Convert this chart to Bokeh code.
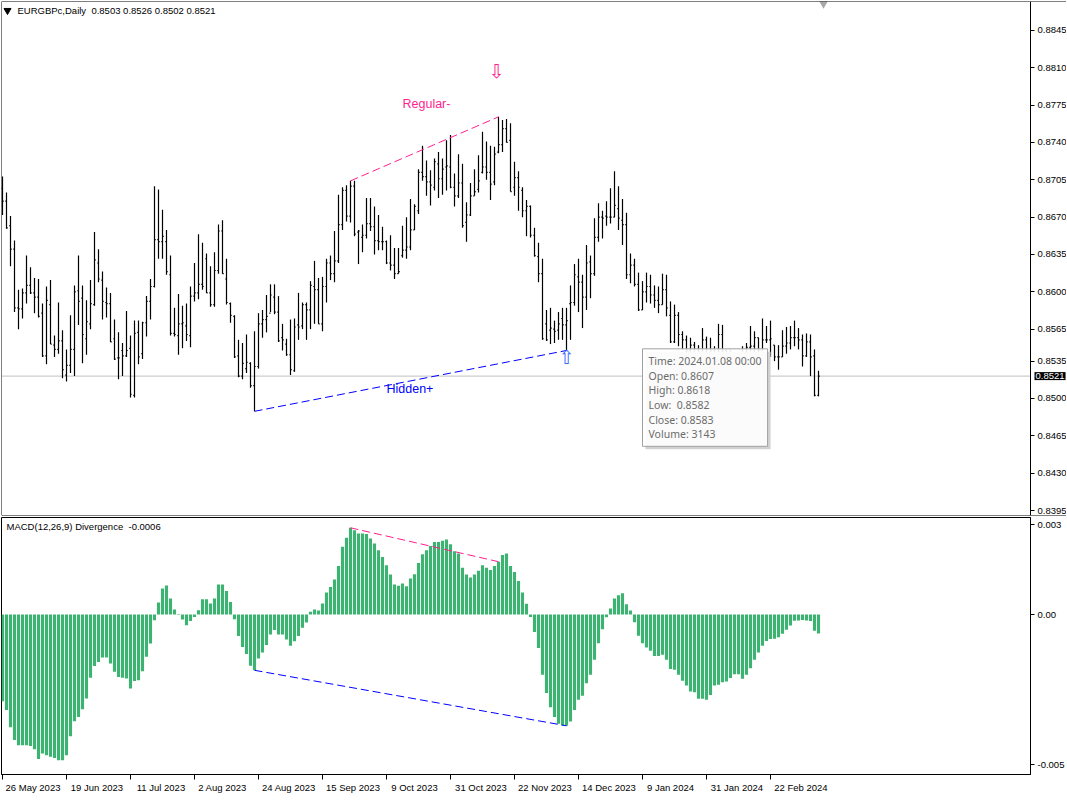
from bokeh.plotting import figure
from bokeh.models import (ColumnDataSource, Range1d, FixedTicker, Span, Label,
                          CustomJSTickFormatter, PrintfTickFormatter)
from bokeh.layouts import column
from bokeh.core.properties import value
from bokeh.embed import file_html
from bokeh.resources import INLINE

symbol = "EURGBPc,Daily"

# daily OHLC, 26 May 2023 .. 11 Mar 2024
opens = [
    0.8697, 0.8685, 0.8662, 0.8640, 0.8585, 0.8584, 0.8599, 0.8606, 0.8599, 0.8595,
    0.8580, 0.8540, 0.8588, 0.8550, 0.8546, 0.8554, 0.8522, 0.8531, 0.8546, 0.8601,
    0.8594, 0.8556, 0.8570, 0.8588, 0.8627, 0.8611, 0.8590, 0.8589, 0.8556, 0.8538,
    0.8545, 0.8540, 0.8547, 0.8503, 0.8562, 0.8542, 0.8571, 0.8591, 0.8605, 0.8649,
    0.8647, 0.8647, 0.8616, 0.8561, 0.8559, 0.8570, 0.8568, 0.8559, 0.8596, 0.8599,
    0.8607, 0.8631, 0.8599, 0.8588, 0.8620, 0.8657, 0.8612, 0.8589, 0.8577, 0.8540,
    0.8521, 0.8528, 0.8533, 0.8512, 0.8530, 0.8570, 0.8574, 0.8580, 0.8595, 0.8581,
    0.8557, 0.8551, 0.8541, 0.8526, 0.8569, 0.8568, 0.8588, 0.8583, 0.8605, 0.8602,
    0.8570, 0.8605, 0.8627, 0.8617, 0.8629, 0.8663, 0.8695, 0.8671, 0.8699, 0.8656,
    0.8651, 0.8653, 0.8664, 0.8661, 0.8648, 0.8647, 0.8647, 0.8627, 0.8625, 0.8617,
    0.8634, 0.8639, 0.8642, 0.8658, 0.8676, 0.8712, 0.8708, 0.8703, 0.8698, 0.8720,
    0.8706, 0.8717, 0.8717, 0.8698, 0.8690, 0.8702, 0.8665, 0.8672, 0.8690, 0.8696,
    0.8712, 0.8717, 0.8712, 0.8703, 0.8731, 0.8738, 0.8753, 0.8742, 0.8698, 0.8707,
    0.8695, 0.8676, 0.8680, 0.8653, 0.8633, 0.8617, 0.8570, 0.8564, 0.8565, 0.8564,
    0.8575, 0.8569, 0.8589, 0.8590, 0.8614, 0.8609, 0.8595, 0.8628, 0.8617, 0.8651,
    0.8670, 0.8671, 0.8670, 0.8670, 0.8678, 0.8667, 0.8663, 0.8616, 0.8625, 0.8607,
    0.8583, 0.8600, 0.8605, 0.8597, 0.8592, 0.8588, 0.8602, 0.8578, 0.8553, 0.8578,
    0.8560, 0.8555, 0.8545, 0.8550, 0.8540, 0.8535, 0.8555, 0.8532, 0.8545, 0.8530,
    0.8560, 0.8545, 0.8528, 0.8520, 0.8512, 0.8530, 0.8540, 0.8548, 0.8549, 0.8557,
    0.8545, 0.8555, 0.8555, 0.8550, 0.8539, 0.8539, 0.8549, 0.8552, 0.8557, 0.8557,
    0.8555, 0.8540, 0.8553, 0.8540, 0.8503,
]
highs = [
    0.8708, 0.8693, 0.8671, 0.8648, 0.8602, 0.8603, 0.8634, 0.8623, 0.8613, 0.8612,
    0.8589, 0.8605, 0.8611, 0.8559, 0.8590, 0.8564, 0.8546, 0.8578, 0.8606, 0.8634,
    0.8606, 0.8592, 0.8611, 0.8656, 0.8640, 0.8619, 0.8604, 0.8599, 0.8574, 0.8562,
    0.8552, 0.8582, 0.8559, 0.8573, 0.8573, 0.8572, 0.8596, 0.8612, 0.8699, 0.8696,
    0.8677, 0.8658, 0.8634, 0.8585, 0.8598, 0.8587, 0.8589, 0.8605, 0.8627, 0.8654,
    0.8646, 0.8636, 0.8624, 0.8637, 0.8663, 0.8667, 0.8631, 0.8590, 0.8578, 0.8555,
    0.8552, 0.8560, 0.8534, 0.8563, 0.8580, 0.8583, 0.8597, 0.8607, 0.8607, 0.8596,
    0.8570, 0.8556, 0.8574, 0.8575, 0.8599, 0.8590, 0.8590, 0.8610, 0.8629, 0.8613,
    0.8614, 0.8631, 0.8634, 0.8657, 0.8691, 0.8698, 0.8700, 0.8704, 0.8704, 0.8658,
    0.8663, 0.8688, 0.8688, 0.8680, 0.8672, 0.8661, 0.8648, 0.8653, 0.8641, 0.8641,
    0.8662, 0.8670, 0.8687, 0.8682, 0.8715, 0.8737, 0.8723, 0.8714, 0.8725, 0.8731,
    0.8725, 0.8742, 0.8747, 0.8711, 0.8729, 0.8720, 0.8684, 0.8702, 0.8715, 0.8728,
    0.8750, 0.8741, 0.8737, 0.8736, 0.8764, 0.8761, 0.8762, 0.8758, 0.8722, 0.8713,
    0.8698, 0.8686, 0.8681, 0.8660, 0.8646, 0.8631, 0.8583, 0.8585, 0.8573, 0.8581,
    0.8585, 0.8585, 0.8606, 0.8626, 0.8631, 0.8616, 0.8644, 0.8634, 0.8669, 0.8683,
    0.8676, 0.8685, 0.8697, 0.8713, 0.8699, 0.8687, 0.8674, 0.8636, 0.8631, 0.8618,
    0.8610, 0.8618, 0.8616, 0.8606, 0.8605, 0.8617, 0.8616, 0.8591, 0.8588, 0.8581,
    0.8563, 0.8559, 0.8557, 0.8553, 0.8550, 0.8566, 0.8558, 0.8557, 0.8549, 0.8570,
    0.8569, 0.8546, 0.8546, 0.8542, 0.8539, 0.8549, 0.8552, 0.8568, 0.8563, 0.8557,
    0.8575, 0.8568, 0.8573, 0.8550, 0.8550, 0.8564, 0.8567, 0.8568, 0.8573, 0.8566,
    0.8560, 0.8561, 0.8560, 0.8546, 0.8526,
]
lows = [
    0.8672, 0.8659, 0.8624, 0.8581, 0.8565, 0.8575, 0.8589, 0.8598, 0.8580, 0.8576,
    0.8539, 0.8532, 0.8551, 0.8539, 0.8542, 0.8519, 0.8516, 0.8524, 0.8521, 0.8569,
    0.8533, 0.8541, 0.8565, 0.8587, 0.8609, 0.8574, 0.8576, 0.8553, 0.8536, 0.8518,
    0.8521, 0.8539, 0.8501, 0.8501, 0.8532, 0.8537, 0.8558, 0.8574, 0.8604, 0.8631,
    0.8631, 0.8616, 0.8559, 0.8558, 0.8541, 0.8547, 0.8554, 0.8548, 0.8591, 0.8593,
    0.8602, 0.8599, 0.8586, 0.8586, 0.8617, 0.8617, 0.8588, 0.8571, 0.8538, 0.8520,
    0.8518, 0.8524, 0.8510, 0.8488, 0.8528, 0.8557, 0.8562, 0.8581, 0.8579, 0.8553,
    0.8545, 0.8540, 0.8522, 0.8525, 0.8555, 0.8565, 0.8555, 0.8565, 0.8570, 0.8570,
    0.8563, 0.8590, 0.8611, 0.8609, 0.8627, 0.8658, 0.8666, 0.8665, 0.8652, 0.8626,
    0.8637, 0.8650, 0.8657, 0.8635, 0.8639, 0.8639, 0.8626, 0.8620, 0.8612, 0.8617,
    0.8632, 0.8631, 0.8639, 0.8658, 0.8673, 0.8704, 0.8690, 0.8681, 0.8695, 0.8688,
    0.8691, 0.8695, 0.8697, 0.8680, 0.8688, 0.8660, 0.8647, 0.8671, 0.8690, 0.8693,
    0.8711, 0.8705, 0.8686, 0.8700, 0.8730, 0.8731, 0.8740, 0.8694, 0.8690, 0.8676,
    0.8670, 0.8652, 0.8651, 0.8633, 0.8609, 0.8555, 0.8554, 0.8551, 0.8552, 0.8555,
    0.8555, 0.8545, 0.8555, 0.8587, 0.8581, 0.8566, 0.8583, 0.8594, 0.8615, 0.8647,
    0.8650, 0.8662, 0.8664, 0.8670, 0.8658, 0.8644, 0.8612, 0.8608, 0.8605, 0.8582,
    0.8583, 0.8590, 0.8589, 0.8585, 0.8580, 0.8588, 0.8577, 0.8552, 0.8552, 0.8549,
    0.8546, 0.8539, 0.8536, 0.8533, 0.8528, 0.8533, 0.8527, 0.8530, 0.8524, 0.8529,
    0.8536, 0.8521, 0.8514, 0.8508, 0.8496, 0.8521, 0.8527, 0.8544, 0.8543, 0.8536,
    0.8545, 0.8552, 0.8539, 0.8535, 0.8527, 0.8539, 0.8542, 0.8546, 0.8549, 0.8546,
    0.8530, 0.8539, 0.8521, 0.8502, 0.8502,
]
closes = [
    0.8685, 0.8660, 0.8640, 0.8585, 0.8584, 0.8599, 0.8606, 0.8599, 0.8595, 0.8577,
    0.8540, 0.8592, 0.8551, 0.8546, 0.8554, 0.8527, 0.8531, 0.8546, 0.8600, 0.8591,
    0.8560, 0.8572, 0.8589, 0.8630, 0.8612, 0.8591, 0.8589, 0.8553, 0.8537, 0.8538,
    0.8540, 0.8545, 0.8504, 0.8561, 0.8539, 0.8571, 0.8591, 0.8605, 0.8649, 0.8647,
    0.8652, 0.8619, 0.8561, 0.8560, 0.8570, 0.8571, 0.8560, 0.8596, 0.8599, 0.8607,
    0.8605, 0.8599, 0.8588, 0.8620, 0.8657, 0.8617, 0.8590, 0.8578, 0.8539, 0.8521,
    0.8533, 0.8534, 0.8512, 0.8530, 0.8570, 0.8574, 0.8577, 0.8597, 0.8581, 0.8554,
    0.8555, 0.8541, 0.8527, 0.8567, 0.8567, 0.8588, 0.8583, 0.8606, 0.8602, 0.8570,
    0.8605, 0.8627, 0.8617, 0.8629, 0.8663, 0.8695, 0.8671, 0.8699, 0.8654, 0.8657,
    0.8653, 0.8664, 0.8661, 0.8648, 0.8647, 0.8647, 0.8627, 0.8625, 0.8617, 0.8619,
    0.8639, 0.8642, 0.8658, 0.8680, 0.8712, 0.8708, 0.8703, 0.8700, 0.8722, 0.8706,
    0.8715, 0.8718, 0.8698, 0.8690, 0.8702, 0.8662, 0.8672, 0.8690, 0.8694, 0.8704,
    0.8717, 0.8712, 0.8701, 0.8729, 0.8738, 0.8753, 0.8740, 0.8694, 0.8707, 0.8698,
    0.8676, 0.8680, 0.8653, 0.8634, 0.8617, 0.8556, 0.8555, 0.8566, 0.8563, 0.8570,
    0.8569, 0.8573, 0.8590, 0.8616, 0.8609, 0.8595, 0.8627, 0.8617, 0.8651, 0.8670,
    0.8669, 0.8670, 0.8670, 0.8681, 0.8669, 0.8663, 0.8616, 0.8625, 0.8607, 0.8583,
    0.8600, 0.8605, 0.8597, 0.8592, 0.8588, 0.8602, 0.8585, 0.8553, 0.8578, 0.8560,
    0.8555, 0.8545, 0.8550, 0.8540, 0.8535, 0.8555, 0.8532, 0.8545, 0.8530, 0.8560,
    0.8545, 0.8528, 0.8520, 0.8512, 0.8530, 0.8540, 0.8548, 0.8549, 0.8557, 0.8545,
    0.8555, 0.8555, 0.8556, 0.8539, 0.8539, 0.8549, 0.8552, 0.8557, 0.8557, 0.8555,
    0.8540, 0.8553, 0.8539, 0.8503, 0.8521,
]

# MACD(12,26,9) histogram, in thousandths
macd_milli = [
    -2.89, -3.18, -3.76, -4.18, -4.36, -4.36, -4.36, -4.38, -4.49, -4.82,
    -4.63, -4.69, -4.74, -4.78, -4.86, -4.86, -4.69, -4.06, -3.56, -3.42,
    -3.16, -2.80, -2.11, -1.72, -1.58, -1.43, -1.43, -1.63, -1.91, -2.08,
    -2.11, -2.13, -2.47, -2.22, -2.19, -1.89, -1.41, -0.97, -0.19, 0.40,
    0.87, 0.97, 0.53, 0.17, -0.02, -0.17, -0.36, -0.22, -0.08, 0.14,
    0.51, 0.51, 0.37, 0.53, 1.00, 1.00, 0.78, 0.42, -0.16, -0.72,
    -1.08, -1.32, -1.71, -1.86, -1.47, -1.27, -1.02, -0.67, -0.52, -0.67,
    -0.67, -0.83, -1.04, -0.89, -0.72, -0.44, -0.27, 0.09, 0.17, 0.13,
    0.37, 0.73, 0.92, 1.17, 1.62, 2.26, 2.56, 2.89, 2.81, 2.70,
    2.70, 2.68, 2.53, 2.37, 2.14, 1.92, 1.64, 1.33, 1.00, 0.96,
    1.03, 0.94, 1.20, 1.34, 1.72, 2.01, 2.14, 2.28, 2.42, 2.42,
    2.46, 2.50, 2.34, 2.11, 2.03, 1.56, 1.33, 1.23, 1.33, 1.46,
    1.64, 1.56, 1.48, 1.62, 1.76, 1.98, 2.03, 1.62, 1.42, 1.12,
    0.73, 0.36, -0.08, -0.58, -1.12, -2.01, -2.62, -3.09, -3.42, -3.64,
    -3.70, -3.71, -3.57, -3.18, -2.84, -2.71, -2.29, -2.01, -1.51, -0.96,
    -0.49, -0.09, 0.20, 0.53, 0.64, 0.71, 0.34, 0.13, -0.26, -0.71,
    -0.96, -1.10, -1.21, -1.38, -1.38, -1.34, -1.51, -1.82, -1.84, -2.01,
    -2.21, -2.37, -2.57, -2.59, -2.81, -2.81, -2.84, -2.68, -2.37, -2.34,
    -2.26, -2.23, -2.12, -1.99, -1.99, -2.14, -2.01, -1.79, -1.51, -1.27,
    -1.04, -0.88, -0.82, -0.81, -0.76, -0.64, -0.51, -0.37, -0.21, -0.20,
    -0.18, -0.20, -0.22, -0.54, -0.63,
]

tick_bars = [0, 16, 32, 48, 64, 80, 96, 112, 128, 144, 160, 176, 192]
tick_labels = ["26 May 2023", "19 Jun 2023", "11 Jul 2023", "2 Aug 2023", "24 Aug 2023",
               "15 Sep 2023", "9 Oct 2023", "31 Oct 2023", "22 Nov 2023", "14 Dec 2023",
               "9 Jan 2024", "31 Jan 2024", "22 Feb 2024"]
price_ticks = [0.8395, 0.8430, 0.8465, 0.8500, 0.8535, 0.8565, 0.8600, 0.8635,
               0.8670, 0.8705, 0.8740, 0.8775, 0.8810, 0.8845]

regular_div = (87, 124)   # bearish regular divergence (highs / histogram peaks)
hidden_div = (63, 141)    # bullish hidden divergence (lows / histogram troughs)

tip_bar = 159
tip_time = "2024.01.08 00:00"
tip_volume = 3143

FONT = "Liberation Sans"
PINK = "#ff1f8f"
BLUE = "#0000ff"
GREEN = "#3cb371"
SP2 = " \u00a0"   # two visible spaces in svg text


# map reference-screen pixels to data, used only to place things
def ref_x(px):
    return (px - 2) / 4


def ref_y(py):
    return 0.8845 - (py - 30) / 10689


def ref_m(py):
    return (616 - py) / 30000


macd = [v / 1000 for v in macd_milli]
idx = list(range(len(closes)))
scale_x = ref_x(1030)     # where the price scale starts


def style_y(axis):
    axis.axis_line_color = "black"
    axis.major_tick_out = 4
    axis.major_tick_in = 0
    axis.minor_tick_out = 0
    axis.major_label_standoff = 3
    axis.major_label_text_font = FONT
    axis.major_label_text_font_size = "9.5px"
    axis.major_label_text_color = "black"


# price window: the frame runs under the price scale so the bid tag can sit on it
xr_main = Range1d(ref_x(1), ref_x(1066))
p = figure(frame_width=1065, frame_height=514, x_range=xr_main,
           y_range=Range1d(ref_y(516), ref_y(1)),
           x_axis_location=None, y_axis_location="right",
           toolbar_location=None, output_backend="svg",
           min_border_left=1, min_border_top=1, min_border_bottom=2, min_border_right=0)
p.grid.visible = False
p.outline_line_color = None
p.yaxis.fixed_location = scale_x
style_y(p.yaxis)
p.yaxis.ticker = FixedTicker(ticks=price_ticks)
p.yaxis.formatter = PrintfTickFormatter(format="%.4f")
p.add_layout(Span(location=ref_y(1), dimension="width", line_color="black", line_width=1))
p.add_layout(Span(location=ref_y(516), dimension="width", line_color="black", line_width=1))
p.add_layout(Span(location=xr_main.start, dimension="height", line_color="black", line_width=1))

# bid line
p.line([xr_main.start, scale_x], [closes[-1], closes[-1]], line_color="#c0c0c0",
       line_width=1, level="underlay")

src = ColumnDataSource(dict(
    x=idx, o=opens, h=highs, l=lows, c=closes,
    xl=[i - 0.3 for i in idx], xr=[i + 0.3 for i in idx],
))
p.segment(x0='x', y0='l', x1='x', y1='h', source=src, line_color="black", line_width=1.2)
p.segment(x0='xl', y0='o', x1='x', y1='o', source=src, line_color="black", line_width=1.2)
p.segment(x0='x', y0='c', x1='xr', y1='c', source=src, line_color="black", line_width=1.2)

a, b = regular_div
p.line([a, b], [highs[a], highs[b]], line_color=PINK, line_dash="8 4", line_width=1)
a, b = hidden_div
p.line([a, b], [lows[a], lows[b]], line_color=BLUE, line_dash="8 4", line_width=1)

p.text(x=[ref_x(402)], y=[ref_y(104)], text=["Regular-"], text_color=PINK,
       text_font=value(FONT), text_font_size="12.5px", text_baseline="middle")
p.text(x=[ref_x(386)], y=[ref_y(389)], text=["Hidden+"], text_color=BLUE,
       text_font=value(FONT), text_font_size="12.5px", text_baseline="middle")
p.text(x=[regular_div[1] - 0.5], y=[ref_y(71)], text=["\u21e9"], text_color=PINK,
       text_font=value("DejaVu Sans"), text_font_size="19px",
       text_align="center", text_baseline="middle")
p.text(x=[hidden_div[1]], y=[ref_y(357)], text=["\u21e7"], text_color="#3d6bff",
       text_font=value("DejaVu Sans"), text_font_size="19px",
       text_align="center", text_baseline="middle")

# chart header
p.scatter(x=[ref_x(7)], y=[ref_y(10)], marker="inverted_triangle", size=7,
          fill_color="black", line_color="black")
header = f"{symbol}{SP2}{opens[-1]:.4f} {highs[-1]:.4f} {lows[-1]:.4f} {closes[-1]:.4f}"
p.text(x=[ref_x(17)], y=[ref_y(10)], text=[header], text_color="black",
       text_font=value(FONT), text_font_size="9.5px", text_baseline="middle")
p.scatter(x=[ref_x(823)], y=[ref_y(3)], marker="inverted_triangle", size=9,
          fill_color="#a8a8a8", line_color=None)

# current bid tag on the price scale
p.add_layout(Label(x=ref_x(1034), y=closes[-1], text=f"{closes[-1]:.4f}",
                   text_color="white", text_font=FONT, text_font_size="9.5px",
                   text_baseline="middle", background_fill_color="black", padding=1))

# crosshair data window
tip = (f"Time: {tip_time}\nOpen: {opens[tip_bar]:.4f}\nHigh: {highs[tip_bar]:.4f}\n"
       f"Low:{SP2}{lows[tip_bar]:.4f}\nClose: {closes[tip_bar]:.4f}\nVolume: {tip_volume}")
p.add_layout(Label(x=ref_x(645), y=ref_y(352), text=tip, text_color="#d2d2d2",
                   text_font="Noto Sans", text_font_size="10.5px", text_line_height=1.05,
                   text_baseline="top", background_fill_color="#d2d2d2",
                   background_fill_alpha=1.0, padding=(6, 5)))
p.add_layout(Label(x=ref_x(642), y=ref_y(349), text=tip, text_color="#6b6b6b",
                   text_font="Noto Sans", text_font_size="10.5px", text_line_height=1.05,
                   text_baseline="top", background_fill_color="white",
                   background_fill_alpha=0.9, border_line_color="#a0a0a0", padding=(6, 5)))

# MACD window
xr_macd = Range1d(ref_x(1), scale_x)
m = figure(frame_width=1029, frame_height=257, x_range=xr_macd,
           y_range=Range1d(ref_m(776), ref_m(519)),
           x_axis_location="below", y_axis_location="right",
           toolbar_location=None, output_backend="svg",
           min_border_left=1, min_border_top=0, min_border_bottom=0, min_border_right=0)
m.grid.visible = False
m.outline_line_color = "black"
style_y(m.yaxis)
m.yaxis.ticker = FixedTicker(ticks=[-0.005, 0.0, 0.003])
m.yaxis.formatter = CustomJSTickFormatter(code="return tick == 0 ? '0.00' : tick.toFixed(3);")

m.vbar(x=idx, top=macd, bottom=0, width=0.78, fill_color=GREEN, line_color=None)
a, b = regular_div
m.line([a, b], [macd[a], macd[b]], line_color=PINK, line_dash="8 4", line_width=1)
a, b = hidden_div
m.line([a, b], [macd[a], macd[b]], line_color=BLUE, line_dash="8 4", line_width=1)

m.text(x=[ref_x(6)], y=[ref_m(528)], text=[f"MACD(12,26,9) Divergence{SP2}{macd[-1]:.4f}"],
       text_color="black", text_font=value(FONT), text_font_size="9.5px",
       text_baseline="middle")

# date labels start at their tick, so centre them a little to the right
px_per_bar = 4.0
centers = [round(t + (len(s) * 5.0 / 2 + 3) / px_per_bar, 2)
           for t, s in zip(tick_bars, tick_labels)]
m.xaxis.ticker = FixedTicker(ticks=centers, minor_ticks=tick_bars)
m.xaxis.formatter = CustomJSTickFormatter(
    args=dict(pos=centers, labs=tick_labels),
    code="const k = pos.findIndex(v => Math.abs(v - tick) < 1e-6); return k < 0 ? '' : labs[k];")
m.xaxis.major_tick_out = 0
m.xaxis.major_tick_in = 0
m.xaxis.minor_tick_out = 5
m.xaxis.minor_tick_in = 0
m.xaxis.minor_tick_line_color = "black"
m.xaxis.axis_line_color = "black"
m.xaxis.major_label_standoff = 2
m.xaxis.major_label_text_font = FONT
m.xaxis.major_label_text_font_size = "9.5px"
m.xaxis.major_label_text_color = "black"

layout = column(p, m)
open("out.html", "w").write(file_html(layout, INLINE))
